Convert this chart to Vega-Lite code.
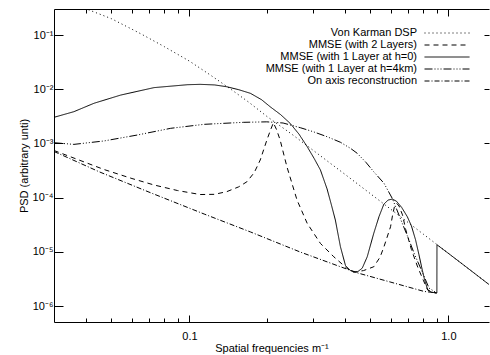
{
  "$schema": "https://vega.github.io/schema/vega-lite/v6.json",
  "width": 435,
  "height": 313,
  "autosize": {"type": "none"},
  "padding": {"left": 54, "top": 9, "right": 1, "bottom": 33},
  "background": "white",
  "config": {
    "view": {"stroke": null},
    "font": "Liberation Sans",
    "axis": {
      "grid": false,
      "labelFont": "Liberation Sans",
      "labelFontSize": 11,
      "labelColor": "black",
      "tickColor": "black",
      "domainColor": "black",
      "tickWidth": 1,
      "domainWidth": 1,
      "titleFont": "Liberation Sans",
      "titleFontSize": 11,
      "titleFontWeight": "normal",
      "titleColor": "black",
      "labelFlush": false
    }
  },
  "datasets": {
    "psd": [
      {"series": "Von Karman DSP", "f": 0.03, "psd": 0.45},
      {"series": "Von Karman DSP", "f": 0.035, "psd": 0.37},
      {"series": "Von Karman DSP", "f": 0.0402, "psd": 0.30},
      {"series": "Von Karman DSP", "f": 0.05, "psd": 0.20},
      {"series": "Von Karman DSP", "f": 0.065, "psd": 0.105},
      {"series": "Von Karman DSP", "f": 0.08, "psd": 0.061},
      {"series": "Von Karman DSP", "f": 0.1, "psd": 0.033},
      {"series": "Von Karman DSP", "f": 0.12, "psd": 0.0185},
      {"series": "Von Karman DSP", "f": 0.1437, "psd": 0.0102},
      {"series": "Von Karman DSP", "f": 0.17, "psd": 0.0057},
      {"series": "Von Karman DSP", "f": 0.2, "psd": 0.0031},
      {"series": "Von Karman DSP", "f": 0.25, "psd": 0.00145},
      {"series": "Von Karman DSP", "f": 0.3, "psd": 0.00075},
      {"series": "Von Karman DSP", "f": 0.35, "psd": 0.00043},
      {"series": "Von Karman DSP", "f": 0.4, "psd": 0.000266},
      {"series": "Von Karman DSP", "f": 0.5, "psd": 0.000118},
      {"series": "Von Karman DSP", "f": 0.6, "psd": 6.07e-5},
      {"series": "Von Karman DSP", "f": 0.7, "psd": 3.46e-5},
      {"series": "Von Karman DSP", "f": 0.8, "psd": 2.12e-5},
      {"series": "Von Karman DSP", "f": 0.9, "psd": 1.38e-5},
      {"series": "Von Karman DSP", "f": 1.0, "psd": 9.37e-6},
      {"series": "Von Karman DSP", "f": 1.2, "psd": 4.81e-6},
      {"series": "Von Karman DSP", "f": 1.45, "psd": 2.4e-6},

      {"series": "MMSE (with 2 Layers)", "f": 0.03, "psd": 7.4e-4},
      {"series": "MMSE (with 2 Layers)", "f": 0.0468, "psd": 3.3e-4},
      {"series": "MMSE (with 2 Layers)", "f": 0.06, "psd": 2.25e-4},
      {"series": "MMSE (with 2 Layers)", "f": 0.073, "psd": 1.71e-4},
      {"series": "MMSE (with 2 Layers)", "f": 0.09, "psd": 1.35e-4},
      {"series": "MMSE (with 2 Layers)", "f": 0.11, "psd": 1.14e-4},
      {"series": "MMSE (with 2 Layers)", "f": 0.125, "psd": 1.15e-4},
      {"series": "MMSE (with 2 Layers)", "f": 0.1395, "psd": 1.29e-4},
      {"series": "MMSE (with 2 Layers)", "f": 0.155, "psd": 1.58e-4},
      {"series": "MMSE (with 2 Layers)", "f": 0.1667, "psd": 1.96e-4},
      {"series": "MMSE (with 2 Layers)", "f": 0.178, "psd": 2.9e-4},
      {"series": "MMSE (with 2 Layers)", "f": 0.1877, "psd": 4.94e-4},
      {"series": "MMSE (with 2 Layers)", "f": 0.1992, "psd": 1.16e-3},
      {"series": "MMSE (with 2 Layers)", "f": 0.206, "psd": 1.8e-3},
      {"series": "MMSE (with 2 Layers)", "f": 0.211, "psd": 2.4e-3},
      {"series": "MMSE (with 2 Layers)", "f": 0.217, "psd": 1.8e-3},
      {"series": "MMSE (with 2 Layers)", "f": 0.224, "psd": 1.16e-3},
      {"series": "MMSE (with 2 Layers)", "f": 0.238, "psd": 3.7e-4},
      {"series": "MMSE (with 2 Layers)", "f": 0.2604, "psd": 9.0e-5},
      {"series": "MMSE (with 2 Layers)", "f": 0.285, "psd": 3.35e-5},
      {"series": "MMSE (with 2 Layers)", "f": 0.3205, "psd": 1.43e-5},
      {"series": "MMSE (with 2 Layers)", "f": 0.361, "psd": 8.1e-6},
      {"series": "MMSE (with 2 Layers)", "f": 0.406, "psd": 4.95e-6},
      {"series": "MMSE (with 2 Layers)", "f": 0.43, "psd": 4.2e-6},
      {"series": "MMSE (with 2 Layers)", "f": 0.47, "psd": 4.5e-6},
      {"series": "MMSE (with 2 Layers)", "f": 0.515, "psd": 5.3e-6},
      {"series": "MMSE (with 2 Layers)", "f": 0.545, "psd": 8.0e-6},
      {"series": "MMSE (with 2 Layers)", "f": 0.564, "psd": 1.24e-5},
      {"series": "MMSE (with 2 Layers)", "f": 0.598, "psd": 2.9e-5},
      {"series": "MMSE (with 2 Layers)", "f": 0.61, "psd": 5.0e-5},
      {"series": "MMSE (with 2 Layers)", "f": 0.62, "psd": 7.0e-5},
      {"series": "MMSE (with 2 Layers)", "f": 0.632, "psd": 7.8e-5},
      {"series": "MMSE (with 2 Layers)", "f": 0.645, "psd": 7.0e-5},
      {"series": "MMSE (with 2 Layers)", "f": 0.665, "psd": 4.8e-5},
      {"series": "MMSE (with 2 Layers)", "f": 0.684, "psd": 2.6e-5},
      {"series": "MMSE (with 2 Layers)", "f": 0.72, "psd": 1.1e-5},
      {"series": "MMSE (with 2 Layers)", "f": 0.761, "psd": 5.25e-6},
      {"series": "MMSE (with 2 Layers)", "f": 0.8, "psd": 3.0e-6},
      {"series": "MMSE (with 2 Layers)", "f": 0.832, "psd": 1.97e-6},
      {"series": "MMSE (with 2 Layers)", "f": 0.87, "psd": 1.78e-6},
      {"series": "MMSE (with 2 Layers)", "f": 0.9027, "psd": 1.74e-6},

      {"series": "MMSE (with 1 Layer at h=0)", "f": 0.03, "psd": 3.03e-3},
      {"series": "MMSE (with 1 Layer at h=0)", "f": 0.0358, "psd": 3.85e-3},
      {"series": "MMSE (with 1 Layer at h=0)", "f": 0.0428, "psd": 5.5e-3},
      {"series": "MMSE (with 1 Layer at h=0)", "f": 0.0543, "psd": 7.8e-3},
      {"series": "MMSE (with 1 Layer at h=0)", "f": 0.073, "psd": 0.0107},
      {"series": "MMSE (with 1 Layer at h=0)", "f": 0.0982, "psd": 0.0121},
      {"series": "MMSE (with 1 Layer at h=0)", "f": 0.11, "psd": 0.0123},
      {"series": "MMSE (with 1 Layer at h=0)", "f": 0.125, "psd": 0.012},
      {"series": "MMSE (with 1 Layer at h=0)", "f": 0.1395, "psd": 0.0111},
      {"series": "MMSE (with 1 Layer at h=0)", "f": 0.155, "psd": 0.0098},
      {"series": "MMSE (with 1 Layer at h=0)", "f": 0.172, "psd": 0.0084},
      {"series": "MMSE (with 1 Layer at h=0)", "f": 0.19, "psd": 0.0064},
      {"series": "MMSE (with 1 Layer at h=0)", "f": 0.205, "psd": 0.00475},
      {"series": "MMSE (with 1 Layer at h=0)", "f": 0.225, "psd": 0.0034},
      {"series": "MMSE (with 1 Layer at h=0)", "f": 0.245, "psd": 0.00234},
      {"series": "MMSE (with 1 Layer at h=0)", "f": 0.265, "psd": 0.00148},
      {"series": "MMSE (with 1 Layer at h=0)", "f": 0.285, "psd": 0.00087},
      {"series": "MMSE (with 1 Layer at h=0)", "f": 0.303, "psd": 0.00053},
      {"series": "MMSE (with 1 Layer at h=0)", "f": 0.3205, "psd": 0.000324},
      {"series": "MMSE (with 1 Layer at h=0)", "f": 0.34, "psd": 0.000145},
      {"series": "MMSE (with 1 Layer at h=0)", "f": 0.353, "psd": 7.5e-5},
      {"series": "MMSE (with 1 Layer at h=0)", "f": 0.366, "psd": 3.87e-5},
      {"series": "MMSE (with 1 Layer at h=0)", "f": 0.383, "psd": 1.24e-5},
      {"series": "MMSE (with 1 Layer at h=0)", "f": 0.4005, "psd": 5.6e-6},
      {"series": "MMSE (with 1 Layer at h=0)", "f": 0.419, "psd": 4.5e-6},
      {"series": "MMSE (with 1 Layer at h=0)", "f": 0.444, "psd": 4.2e-6},
      {"series": "MMSE (with 1 Layer at h=0)", "f": 0.465, "psd": 5.0e-6},
      {"series": "MMSE (with 1 Layer at h=0)", "f": 0.486, "psd": 8.1e-6},
      {"series": "MMSE (with 1 Layer at h=0)", "f": 0.515, "psd": 2.19e-5},
      {"series": "MMSE (with 1 Layer at h=0)", "f": 0.54, "psd": 4.5e-5},
      {"series": "MMSE (with 1 Layer at h=0)", "f": 0.5637, "psd": 7.6e-5},
      {"series": "MMSE (with 1 Layer at h=0)", "f": 0.585, "psd": 9.0e-5},
      {"series": "MMSE (with 1 Layer at h=0)", "f": 0.607, "psd": 9.4e-5},
      {"series": "MMSE (with 1 Layer at h=0)", "f": 0.63, "psd": 8.6e-5},
      {"series": "MMSE (with 1 Layer at h=0)", "f": 0.66, "psd": 6.6e-5},
      {"series": "MMSE (with 1 Layer at h=0)", "f": 0.694, "psd": 4.45e-5},
      {"series": "MMSE (with 1 Layer at h=0)", "f": 0.72, "psd": 3.0e-5},
      {"series": "MMSE (with 1 Layer at h=0)", "f": 0.747, "psd": 1.66e-5},
      {"series": "MMSE (with 1 Layer at h=0)", "f": 0.77, "psd": 8.8e-6},
      {"series": "MMSE (with 1 Layer at h=0)", "f": 0.793, "psd": 4.6e-6},
      {"series": "MMSE (with 1 Layer at h=0)", "f": 0.81, "psd": 3.0e-6},
      {"series": "MMSE (with 1 Layer at h=0)", "f": 0.832, "psd": 2.0e-6},
      {"series": "MMSE (with 1 Layer at h=0)", "f": 0.86, "psd": 1.8e-6},
      {"series": "MMSE (with 1 Layer at h=0)", "f": 0.9027, "psd": 1.74e-6},
      {"series": "MMSE (with 1 Layer at h=0)", "f": 0.9035, "psd": 1.35e-5},
      {"series": "MMSE (with 1 Layer at h=0)", "f": 1.0, "psd": 9.37e-6},
      {"series": "MMSE (with 1 Layer at h=0)", "f": 1.2, "psd": 4.81e-6},
      {"series": "MMSE (with 1 Layer at h=0)", "f": 1.45, "psd": 2.4e-6},

      {"series": "MMSE (with 1 Layer at h=4km)", "f": 0.03, "psd": 1.03e-3},
      {"series": "MMSE (with 1 Layer at h=4km)", "f": 0.0358, "psd": 9.6e-4},
      {"series": "MMSE (with 1 Layer at h=4km)", "f": 0.0468, "psd": 1.11e-3},
      {"series": "MMSE (with 1 Layer at h=4km)", "f": 0.063, "psd": 1.43e-3},
      {"series": "MMSE (with 1 Layer at h=4km)", "f": 0.0847, "psd": 1.9e-3},
      {"series": "MMSE (with 1 Layer at h=4km)", "f": 0.114, "psd": 2.25e-3},
      {"series": "MMSE (with 1 Layer at h=4km)", "f": 0.162, "psd": 2.45e-3},
      {"series": "MMSE (with 1 Layer at h=4km)", "f": 0.199, "psd": 2.5e-3},
      {"series": "MMSE (with 1 Layer at h=4km)", "f": 0.23, "psd": 2.38e-3},
      {"series": "MMSE (with 1 Layer at h=4km)", "f": 0.268, "psd": 1.95e-3},
      {"series": "MMSE (with 1 Layer at h=4km)", "f": 0.3, "psd": 1.65e-3},
      {"series": "MMSE (with 1 Layer at h=4km)", "f": 0.34, "psd": 1.33e-3},
      {"series": "MMSE (with 1 Layer at h=4km)", "f": 0.383, "psd": 1.05e-3},
      {"series": "MMSE (with 1 Layer at h=4km)", "f": 0.419, "psd": 8.1e-4},
      {"series": "MMSE (with 1 Layer at h=4km)", "f": 0.444, "psd": 6.6e-4},
      {"series": "MMSE (with 1 Layer at h=4km)", "f": 0.48, "psd": 4.5e-4},
      {"series": "MMSE (with 1 Layer at h=4km)", "f": 0.515, "psd": 3.0e-4},
      {"series": "MMSE (with 1 Layer at h=4km)", "f": 0.564, "psd": 1.84e-4},
      {"series": "MMSE (with 1 Layer at h=4km)", "f": 0.607, "psd": 9.7e-5},
      {"series": "MMSE (with 1 Layer at h=4km)", "f": 0.64, "psd": 5.2e-5},
      {"series": "MMSE (with 1 Layer at h=4km)", "f": 0.67, "psd": 3.0e-5},
      {"series": "MMSE (with 1 Layer at h=4km)", "f": 0.7, "psd": 1.8e-5},
      {"series": "MMSE (with 1 Layer at h=4km)", "f": 0.74, "psd": 9.0e-6},
      {"series": "MMSE (with 1 Layer at h=4km)", "f": 0.781, "psd": 5.0e-6},
      {"series": "MMSE (with 1 Layer at h=4km)", "f": 0.842, "psd": 2.14e-6},
      {"series": "MMSE (with 1 Layer at h=4km)", "f": 0.9027, "psd": 1.74e-6},

      {"series": "On axis reconstruction", "f": 0.03, "psd": 7.1e-4},
      {"series": "On axis reconstruction", "f": 0.0451, "psd": 2.96e-4},
      {"series": "On axis reconstruction", "f": 0.0705, "psd": 1.24e-4},
      {"series": "On axis reconstruction", "f": 0.114, "psd": 4.98e-5},
      {"series": "On axis reconstruction", "f": 0.1723, "psd": 2.32e-5},
      {"series": "On axis reconstruction", "f": 0.268, "psd": 9.9e-6},
      {"series": "On axis reconstruction", "f": 0.383, "psd": 5.3e-6},
      {"series": "On axis reconstruction", "f": 0.444, "psd": 4.1e-6},
      {"series": "On axis reconstruction", "f": 0.6, "psd": 2.75e-6},
      {"series": "On axis reconstruction", "f": 0.805, "psd": 1.86e-6},
      {"series": "On axis reconstruction", "f": 0.9027, "psd": 1.74e-6}
    ]
  },
  "data": {"name": "psd"},
  "layer": [
    {
      "mark": {"type": "line", "clip": true, "color": "black"},
      "encoding": {
        "x": {
          "field": "f", "type": "quantitative",
          "scale": {"type": "log", "domain": [0.03, 1.435], "nice": false},
          "axis": {
            "orient": "bottom", "values": [0.1, 1],
            "labelExpr": "datum.value < 0.5 ? '0.1' : '1.0'",
            "tickSize": -7, "labelPadding": 15,
            "title": "Spatial frequencies m⁻¹", "titlePadding": 1
          }
        },
        "y": {
          "field": "psd", "type": "quantitative",
          "scale": {"type": "log", "domain": [5.07e-7, 0.302], "nice": false},
          "axis": {
            "orient": "left",
            "values": [1e-6, 1e-5, 1e-4, 0.001, 0.01, 0.1],
            "labelExpr": "'10' + ['', '⁻¹', '⁻²', '⁻³', '⁻⁴', '⁻⁵', '⁻⁶'][round(-log(datum.value) / LN10)]",
            "tickSize": -9, "labelPadding": 10,
            "title": "PSD (arbitrary unti)", "titlePadding": 3
          }
        },
        "strokeDash": {
          "field": "series", "type": "nominal",
          "scale": {
            "domain": ["Von Karman DSP", "MMSE (with 2 Layers)", "MMSE (with 1 Layer at h=0)", "MMSE (with 1 Layer at h=4km)", "On axis reconstruction"],
            "range": [[1, 3], [5, 4], [1, 0], [8, 2, 1, 2, 1, 2, 1, 2], [5, 2, 1, 2]]
          },
          "legend": {
            "title": null,
            "orient": "none",
            "legendX": 386.5,
            "legendY": 17.5,
            "padding": 0,
            "symbolType": "M-32,0M-3.75,0H3.75",
            "symbolSize": 144,
            "symbolStrokeColor": "black",
            "symbolStrokeWidth": 1,
            "symbolFillColor": "transparent",
            "labelAlign": "right",
            "labelBaseline": "middle",
            "labelOffset": -36.5,
            "labelFont": "Liberation Sans",
            "labelFontSize": 11,
            "labelColor": "black",
            "labelLimit": 300,
            "rowPadding": -0.5
          }
        },
        "strokeWidth": {
          "field": "series", "type": "nominal",
          "scale": {
            "domain": ["Von Karman DSP", "MMSE (with 2 Layers)", "MMSE (with 1 Layer at h=0)", "MMSE (with 1 Layer at h=4km)", "On axis reconstruction"],
            "range": [1, 1, 1.8, 1, 1]
          },
          "legend": null
        }
      }
    },
    {
      "mark": {"type": "point", "opacity": 0},
      "encoding": {
        "x": {
          "field": "f", "type": "quantitative",
          "scale": {"type": "log", "domain": [0.03, 1.435], "nice": false},
          "axis": {"orient": "bottom", "values": [0.04, 0.05, 0.06, 0.07, 0.08, 0.09, 0.2, 0.3, 0.4, 0.5, 0.6, 0.7, 0.8, 0.9], "tickSize": -4, "labels": false, "domain": false, "title": null}
        },
        "y": {
          "field": "psd", "type": "quantitative",
          "scale": {"type": "log", "domain": [5.07e-7, 0.302], "nice": false},
          "axis": {"orient": "right", "values": [1e-6, 1e-5, 1e-4, 0.001, 0.01, 0.1], "tickSize": -5, "labels": false, "domain": false, "title": null}
        }
      }
    },
    {
      "mark": {"type": "point", "opacity": 0},
      "encoding": {
        "x": {
          "field": "f", "type": "quantitative",
          "scale": {"type": "log", "domain": [0.03, 1.435], "nice": false},
          "axis": {"orient": "top", "values": [0.1, 1], "tickSize": -7, "labels": false, "title": null}
        },
        "y": {
          "field": "psd", "type": "quantitative",
          "scale": {"type": "log", "domain": [5.07e-7, 0.302], "nice": false},
          "axis": null
        }
      }
    },
    {
      "mark": {"type": "point", "opacity": 0},
      "encoding": {
        "x": {
          "field": "f", "type": "quantitative",
          "scale": {"type": "log", "domain": [0.03, 1.435], "nice": false},
          "axis": {"orient": "top", "values": [0.04, 0.05, 0.06, 0.07, 0.08, 0.09, 0.2, 0.3, 0.4, 0.5, 0.6, 0.7, 0.8, 0.9], "tickSize": -4, "labels": false, "domain": false, "title": null}
        },
        "y": {
          "field": "psd", "type": "quantitative",
          "scale": {"type": "log", "domain": [5.07e-7, 0.302], "nice": false},
          "axis": null
        }
      }
    }
  ],
  "resolve": {"axis": {"x": "independent", "y": "independent"}}
}
